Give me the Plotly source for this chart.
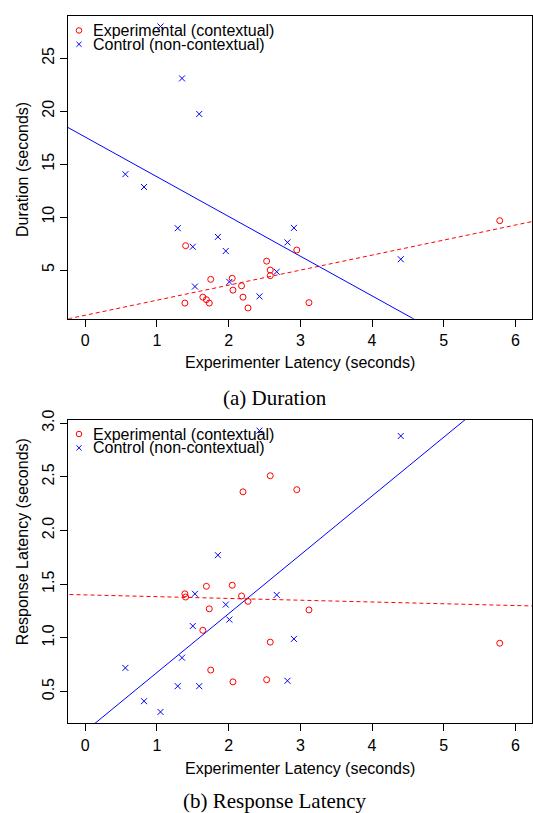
import plotly.graph_objects as go

W, H = 533, 813

# ---------------- data ----------------
exp_x = [1.39, 1.40, 1.64, 1.69, 1.73, 1.75, 2.05, 2.06, 2.18, 2.20, 2.27, 2.53, 2.58, 2.58, 2.95, 3.12, 5.78]
exp_duration = [1.88, 7.30, 2.44, 2.20, 1.88, 4.12, 4.22, 3.10, 3.51, 2.44, 1.42, 5.84, 5.00, 4.47, 6.89, 1.92, 9.66]
exp_resp = [1.41, 1.38, 1.07, 1.48, 1.27, 0.70, 1.49, 0.59, 1.39, 2.36, 1.34, 0.61, 2.51, 0.96, 2.38, 1.26, 0.95]

ctl_x = [0.56, 0.82, 1.05, 1.29, 1.35, 1.50, 1.53, 1.59, 1.85, 1.96, 2.01, 2.43, 2.67, 2.82, 2.91, 4.40]
ctl_duration = [14.05, 12.84, 28.0, 8.95, 23.1, 7.20, 3.44, 19.74, 8.13, 6.80, 3.88, 2.51, 4.84, 7.61, 8.98, 6.02]
ctl_resp = [0.72, 0.41, 0.31, 0.55, 0.815, 1.11, 1.41, 0.55, 1.77, 1.31, 1.17, 2.93, 1.40, 0.60, 0.99, 2.88]

# fitted lines (intercept, slope)
fit_dur_exp = (0.73, 1.42)
fit_dur_ctl = (17.56, -3.75)
fit_resp_exp = (1.40, -0.0165)
fit_resp_ctl = (0.129, 0.548)

x_ticks = [0, 1, 2, 3, 4, 5, 6]
dur_ticks = [5, 10, 15, 20, 25]
resp_ticks = [0.5, 1.0, 1.5, 2.0, 2.5, 3.0]

legend_labels = ["Experimental (contextual)", "Control (non-contextual)"]
captions = ["(a) Duration", "(b) Response Latency"]

RED = "#FF0000"
BLUE = "#0000FF"
FONT = "Liberation Sans"

# ---------------- layout helpers ----------------
def px(x):
    return x / W

def py(y):
    return 1 - y / H

line_x = [-1.0, 7.0]

fig = go.Figure()

def add_panel(xa, ya, yvals_exp, yvals_ctl, fit_exp, fit_ctl):
    fig.add_trace(go.Scatter(x=line_x, y=[fit_exp[0] + fit_exp[1] * v for v in line_x],
                             mode="lines", line=dict(color=RED, width=1, dash="4px,3px"),
                             xaxis=xa, yaxis=ya, showlegend=False, hoverinfo="skip"))
    fig.add_trace(go.Scatter(x=line_x, y=[fit_ctl[0] + fit_ctl[1] * v for v in line_x],
                             mode="lines", line=dict(color=BLUE, width=1),
                             xaxis=xa, yaxis=ya, showlegend=False, hoverinfo="skip"))
    fig.add_trace(go.Scatter(x=exp_x, y=yvals_exp, mode="markers",
                             marker=dict(symbol="circle-open", size=6, color=RED, line=dict(width=1, color=RED)),
                             xaxis=xa, yaxis=ya, showlegend=False, cliponaxis=False))
    fig.add_trace(go.Scatter(x=ctl_x, y=yvals_ctl, mode="markers",
                             marker=dict(symbol="x-thin-open", size=6, color=BLUE, line=dict(width=1, color=BLUE)),
                             xaxis=xa, yaxis=ya, showlegend=False, cliponaxis=False))

add_panel("x", "y", exp_duration, ctl_duration, fit_dur_exp, fit_dur_ctl)
add_panel("x2", "y2", exp_resp, ctl_resp, fit_resp_exp, fit_resp_ctl)

xdom = [px(68), px(532)]
axis_common = dict(showline=True, mirror=True, linecolor="black", linewidth=1,
                   ticks="outside", ticklen=7, tickwidth=1, tickcolor="black",
                   showgrid=False, zeroline=False,
                   tickfont=dict(family=FONT, size=16, color="black"))

fig.update_layout(
    width=W, height=H,
    margin=dict(l=0, r=0, t=0, b=0),
    paper_bgcolor="white", plot_bgcolor="white",
    showlegend=False,
    xaxis=dict(domain=xdom, anchor="y", range=[-0.24, 6.23], tickvals=x_ticks, **axis_common),
    yaxis=dict(domain=[py(312.7), py(6)], anchor="x", range=[0.39, 29.0], tickvals=dur_ticks,
               tickangle=-90, **axis_common),
    xaxis2=dict(domain=xdom, anchor="y2", range=[-0.24, 6.23], tickvals=x_ticks, **axis_common),
    yaxis2=dict(domain=[py(722.3), py(415)], anchor="x2", range=[0.203, 3.03], tickvals=resp_ticks,
                ticktext=["%.1f" % v for v in resp_ticks], tickangle=-90, **axis_common),
)

ann = []
def text(x, y, s, size=16, family=FONT, color="black", xanchor="center", angle=0):
    ann.append(dict(x=px(x), y=py(y), xref="paper", yref="paper", text=s, showarrow=False,
                    xanchor=xanchor, yanchor="middle", textangle=angle,
                    font=dict(family=family, size=size, color=color)))

# axis titles
text(300.4, 357, "Experimenter Latency (seconds)")
text(300.4, 767.5, "Experimenter Latency (seconds)")
text(22, 162, "Duration (seconds)", angle=-90)
text(22, 539, "Response Latency (seconds)", angle=-90)
# captions
text(275, 393, captions[0], size=21, family="Liberation Serif")
text(275, 801, captions[1], size=21, family="Liberation Serif")

# legends
shapes = []
for row1 in (20.7, 429.3):
    row2 = row1 + 14
    text(90.7, row1, legend_labels[0], xanchor="left")
    text(90.7, row2, legend_labels[1], xanchor="left")
    r = 2.8
    shapes.append(dict(type="circle", xref="paper", yref="paper",
                       x0=px(79 - r), x1=px(79 + r), y0=py(row1 + r), y1=py(row1 - r),
                       line=dict(color=RED, width=1)))
    d = 2.6
    shapes.append(dict(type="path", xref="paper", yref="paper",
                       path="M %f %f L %f %f M %f %f L %f %f" % (
                           px(79 - d), py(row2 - d), px(79 + d), py(row2 + d),
                           px(79 - d), py(row2 + d), px(79 + d), py(row2 - d)),
                       line=dict(color=BLUE, width=1)))

fig.update_layout(annotations=ann, shapes=shapes)

post = ("document.body.style.margin='0px';document.body.style.padding='0px';"
        "var gd=document.getElementById('{plot_id}');"
        "gd.style.position='absolute';gd.style.left='0px';gd.style.top='0px';")
fig.write_html("out.html", config={"displayModeBar": False}, post_script=post)
